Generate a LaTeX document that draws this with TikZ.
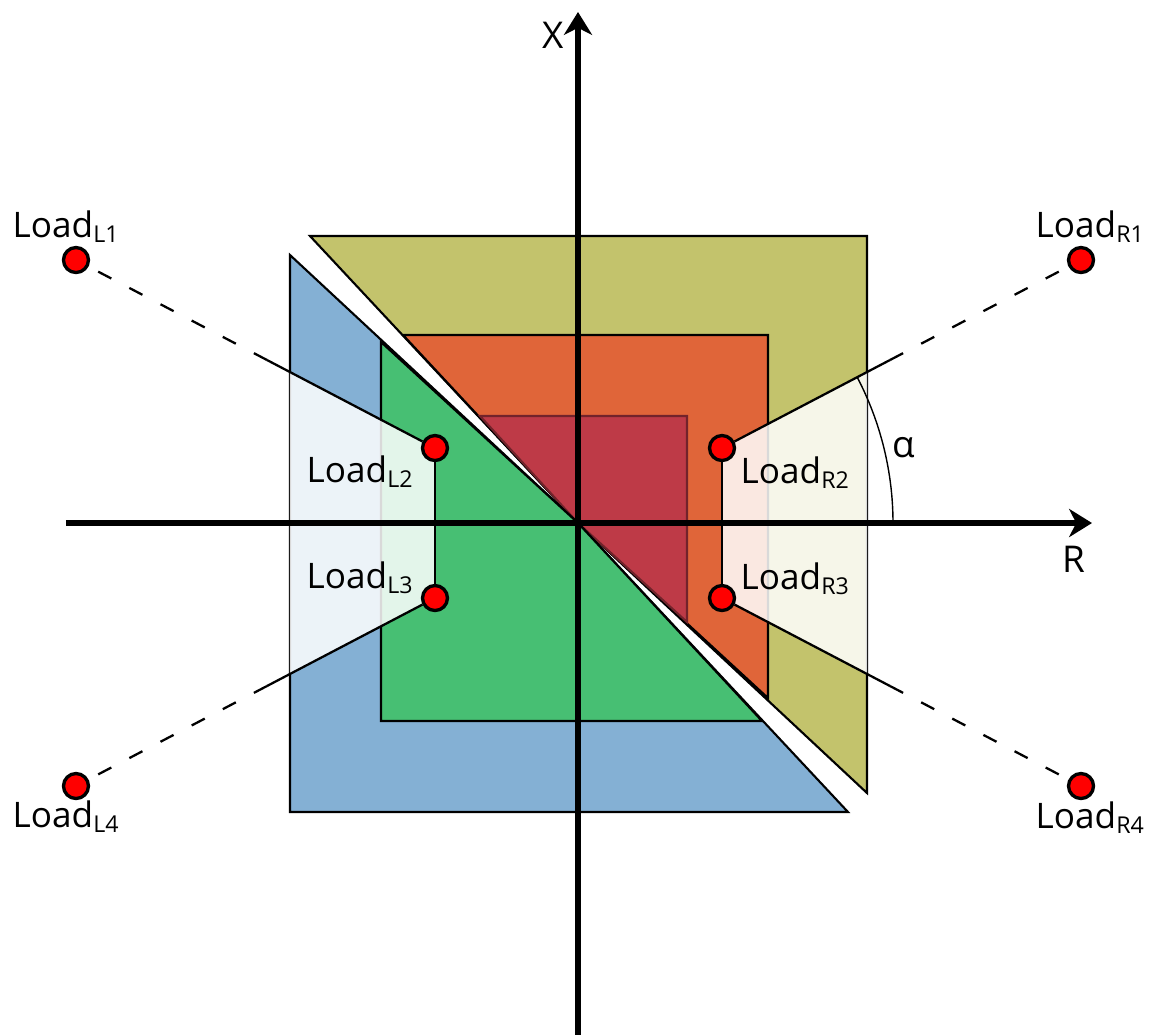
\documentclass[tikz,border=0pt]{standalone}
\usepackage{fontspec}
\setmainfont{Open Sans}
\usepackage{tikz}
\usetikzlibrary{arrows.meta}

\definecolor{khaki}{HTML}{C3C36C}
\definecolor{rust}{HTML}{E06539}
\definecolor{wine}{HTML}{BE3A47}
\definecolor{sky}{HTML}{84B0D4}
\definecolor{leaf}{HTML}{47BF73}
\newcommand{\ld}[1]{Load\raisebox{-1.6pt}{\fontsize{6.6}{7}\selectfont #1}}

\begin{document}
\begin{tikzpicture}[x=0.1mm, y=0.1mm,
  area/.style={draw=black, line width=0.6pt},
  haze/.style={fill=white, fill opacity=0.85},
  axis/.style={line width=1.5pt, -{Stealth[length=6.5pt, width=8pt, inset=2pt]}},
  link/.style={line width=0.65pt},
  farlink/.style={line width=0.65pt, dash pattern=on 4.2pt off 5.8pt},
  loadpt/.style={circle, draw=black, fill=red, line width=0.95pt, minimum size=2.5mm, inner sep=0pt},
  lbl/.style={anchor=base west, inner sep=0pt, font=\fontsize{10}{12}\selectfont},
  axlbl/.style={anchor=base, inner sep=0pt, font=\fontsize{10.5}{12}\selectfont}]
\useasboundingbox (-578,-511) rectangle (576,523);
\coordinate (O) at (0,0);
\coordinate (pL1) at (-502,263);
\coordinate (pL2) at (-143,75);
\coordinate (pL3) at (-143,-75);
\coordinate (pL4) at (-502,-263);
\coordinate (pR1) at (503,263);
\coordinate (pR2) at (144,75);
\coordinate (pR3) at (144,-75);
\coordinate (pR4) at (503,-263);
\coordinate (eL1) at (-311,163);
\coordinate (eL4) at (-311,-163);
\coordinate (eR1) at (312,163);
\coordinate (eR4) at (312,-163);

\filldraw[area, fill=khaki] (-268,287) -- (289,287) -- (289,-270) -- (O) -- cycle;
\filldraw[area, fill=rust] (-175,188) -- (190,188) -- (190,-175) -- (O) -- cycle;
\filldraw[area, fill=wine, draw=wine!60!black] (-98,107) -- (109,107) -- (109,-99) -- (O) -- cycle;
\filldraw[area, fill=sky] (-288,268) -- (O) -- (270,-289) -- (-288,-289) -- cycle;
\filldraw[area, fill=leaf] (-197,181) -- (O) -- (184,-198) -- (-197,-198) -- cycle;

\fill[haze] (-288,151) -- (pL2) -- (pL3) -- (-288,-151) -- cycle;
\fill[haze] (289,151) -- (pR2) -- (pR3) -- (289,-151) -- cycle;

\coordinate (xw) at (-512,0);
\coordinate (xe) at (514,0);
\coordinate (ys) at (0,-515);
\coordinate (yn) at (0,511);
\draw[axis] (xw) -- (xe);
\draw[axis] (ys) -- (yn);
\node[axlbl] (xlab) at (-25,475) {X};
\node[axlbl] (rlab) at (496,-49) {R};

\draw[line width=0.4pt] (315,0) arc[start angle=0, end angle=27.6, radius=315];
\node[axlbl] (alab) at (326,66) {α};

\foreach \n in {L1,L2,L3,L4,R1,R2,R3,R4}
  \node[loadpt] (\n) at (p\n) {};

\draw[link] (L2) -- (L3);
\draw[link] (R2) -- (R3);
\draw[link] (L2) -- (eL1);
\draw[link] (L3) -- (eL4);
\draw[link] (R2) -- (eR1);
\draw[link] (R3) -- (eR4);
\draw[farlink] (eL1) -- (L1);
\draw[farlink] (eL4) -- (L4);
\draw[farlink] (eR1) -- (R1);
\draw[farlink] (eR4) -- (R4);

\node[lbl] (tL1) at (-566,286) {\ld{L1}};
\node[lbl] (tL2) at (-272,41) {\ld{L2}};
\node[lbl] (tL3) at (-272,-65) {\ld{L3}};
\node[lbl] (tL4) at (-566,-304) {\ld{L4}};
\node[lbl] (tR1) at (457,286) {\ld{R1}};
\node[lbl] (tR2) at (162,40) {\ld{R2}};
\node[lbl] (tR3) at (162,-66) {\ld{R3}};
\node[lbl] (tR4) at (457,-305) {\ld{R4}};
\end{tikzpicture}
\end{document}
